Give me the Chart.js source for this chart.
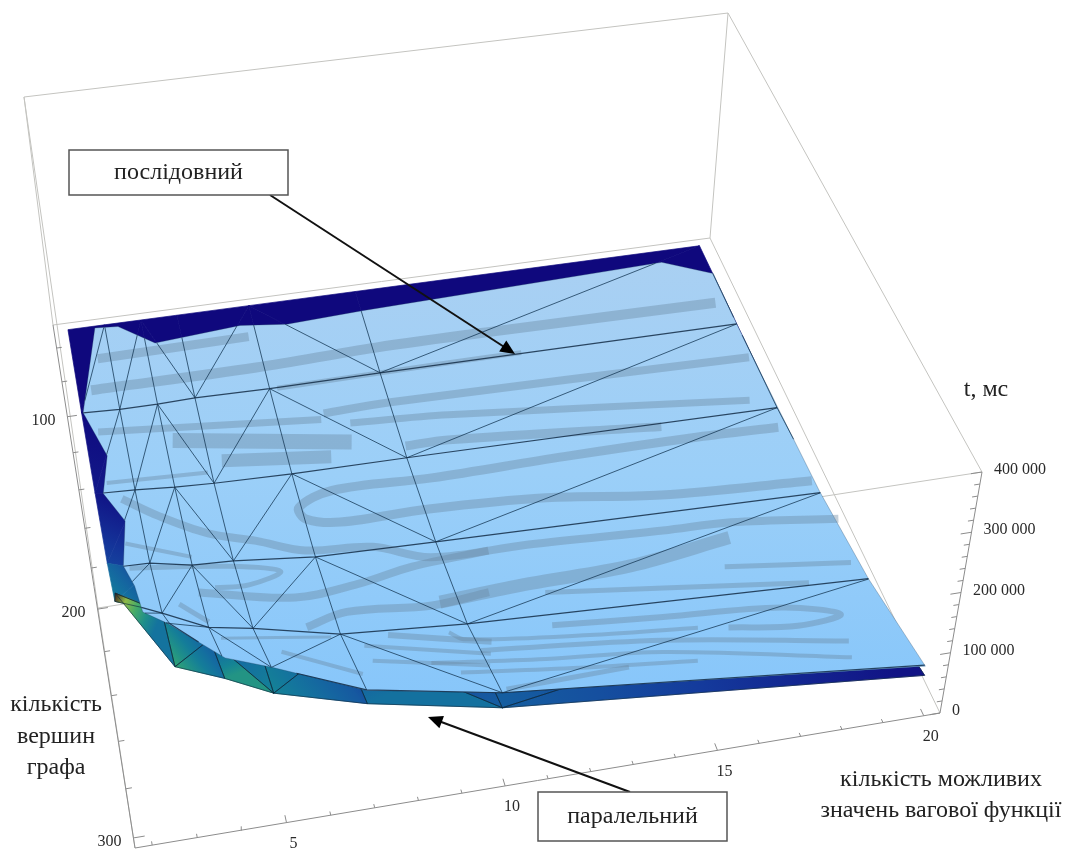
<!DOCTYPE html>
<html>
<head>
<meta charset="utf-8">
<title>t, мс</title>
<script src="https://cdn.jsdelivr.net/npm/chart.js@4"></script>
<style>
  body { margin: 0; background: #fff; }
  canvas { display: block; }
</style>
</head>
<body>
<canvas id="surfaceChart" width="1067" height="849"></canvas>
<script>
// axes: number of weight values, number of vertices, time
const weightValues = [2, 3, 4, 5, 7, 10, 20];
const vertexValues = [50, 100, 150, 200, 250, 300];

// sequential algorithm, t in ms, one row per vertex count
const seqT50 = [0, 0, 0, 0, 0, 0, 0];
const seqT100 = [3000, 0, 0, 2000, 0, 1000, 0];
const seqT150 = [22000, 19000, 14000, 11000, 8000, 7000, 1000];
const seqT200 = [65000, 63000, 49000, 46000, 32000, 27000, 12000];
const seqT250 = [193000, 160000, 125000, 112000, 80000, 64000, 34000];
const seqT300 = [370000, 340000, 271000, 242000, 180000, 139000, 69000];

// parallel algorithm
const parT50 = [0, 0, 0, 0, 0, 0, 0];
const parT100 = [3000, 0, 0, 0, 0, 0, 0];
const parT150 = [23000, 7000, 2000, 1000, 0, 0, 0];
const parT200 = [73000, 51000, 33000, 31000, 18000, 13000, 1000];
const parT250 = [191000, 162000, 105000, 112000, 69000, 51000, 15000];
const parT300 = [403000, 268000, 236000, 199000, 157000, 114000, 52000];

// edge of the part of the sequential sheet left inside the plot range: [w, n, t]
const seqOutline = [
  [2.71, 58, 20000], [3.33, 59, 20000], [4.21, 75, 30000], [6.58, 68, 20000], [7.83, 71, 20000],
  [9.95, 69, 20000], [18.57, 64, 20000], [19.84, 75, 20000], [19.65, 114, 40000], [19.68, 162, 40000],
  [19.55, 213, 60000], [19.54, 262, 80000], [19.87, 303, 80000], [10.11, 293, 110000], [7.08, 293, 150000],
  [5.10, 290, 200000], [4.11, 288, 220000], [2.97, 290, 300000], [2.51, 289, 320000], [2.48, 247, 200000],
  [2.35, 210, 100000], [2.58, 183, 80000], [2.18, 162, 60000], [2.43, 143, 60000], [2.02, 112, 40000]
];

// grey bands on the sheet, [w, n] at the level bandLevel
const bandLevel = 70000;
const contourBands = [
  [[2.6,93],[6.6,92]],
  [[2.3,110],[6.6,110],[9.8,108],[13.2,108],[19.1,109]],
  [[7.0,123],[11.6,122],[13.5,122]],
  [[8.0,140],[9.7,139],[19.3,142]],
  [[2.3,133],[7.9,143]],
  [[4.1,143],[8.5,157]],
  [[5.2,157],[7.9,163]],
  [[8.6,147],[11.1,150],[18.8,165]],
  [[9.8,163],[10.9,163],[16.3,172]],
  [[19.4,210],[15.6,206],[12.8,199],[9.9,196],[7.7,196],[6.9,192],[6.8,186],[7.7,180],[10.2,181],[13.6,180],[17.1,180],[19.2,181]],
  [[2.6,169],[3.4,180],[4.5,192],[5.6,199],[6.7,207],[8.3,210],[9.6,219],[12.0,220],[15.3,223],[17.0,224],[19.6,230]],
  [[16.8,231],[14.2,237],[11.7,238],[9.5,240]],
  [[16.4,244],[19.4,251]],
  [[12.0,243],[18.2,257]],
  [[11.9,258],[14.5,262],[17.3,266],[18.6,273],[17.5,275],[15.9,271]],
  [[9.5,254],[9.8,258],[12.8,265],[15.2,269]],
  [[10.1,264],[14.3,272],[18.5,285]],
  [[8.9,266],[11.5,272],[14.2,277],[18.4,292]],
  [[10.4,282],[13.3,281]],
  [[9.5,272],[12.2,278],[14.9,283]],
  [[2.5,203],[4.8,209],[6.0,215],[5.2,219],[4.4,218]],
  [[4.0,219],[6.2,228],[7.8,226],[9.1,222],[11.0,220]],
  [[6.3,242],[7.3,238],[9.3,241],[10.7,239]],
  [[8.1,251],[10.4,261]],
  [[7.5,254],[10.3,266]],
  [[7.6,261],[10.2,271]],
  [[4.3,241],[6.8,248]],
  [[5.6,251],[7.3,266]],
  [[3.5,223],[4.1,233]],
  [[2.5,191],[4.0,202]],
  [[2.3,160],[4.8,162]]
];

// ticks and labels
const weightTicks = [2, 3, 4, 5, 6, 7, 8, 9, 10, 11, 12, 13, 14, 15, 16, 17, 18, 19, 20];
const vertexTicks = [60, 80, 100, 120, 140, 160, 180, 200, 220, 240, 260, 280, 300];
const timeTicks = [0, 20000, 40000, 60000, 80000, 100000, 120000, 140000, 160000, 180000, 200000,
  220000, 240000, 260000, 280000, 300000, 320000, 340000, 360000, 380000, 400000];
const weightLabels = [5, 10, 15, 20];
const vertexLabels = [100, 200, 300];
const timeLabels = [0, 100000, 200000, 300000, 400000];

const seqGrid = [seqT50, seqT100, seqT150, seqT200, seqT250, seqT300];
const parGrid = [parT50, parT100, parT150, parT200, parT250, parT300];

// plot box and the way the view puts it on the page
const wMin = 1.62, wMax = 20.4, nMin = 46, nMax = 304, tMax = 400000;
const floorCorners = [[53, 325], [710, 238], [940, 713], [135, 848]];
const roofCorners = [[24, 97], [728, 13], [982, 472], [98, 608]];

function quadMap(q) {
  const [p0, p1, p2, p3] = q;
  const dx1 = p1[0] - p2[0], dx2 = p3[0] - p2[0], sx = p0[0] - p1[0] + p2[0] - p3[0];
  const dy1 = p1[1] - p2[1], dy2 = p3[1] - p2[1], sy = p0[1] - p1[1] + p2[1] - p3[1];
  const den = dx1 * dy2 - dx2 * dy1;
  const g = (sx * dy2 - dx2 * sy) / den, h = (dx1 * sy - sx * dy1) / den;
  const a = p1[0] - p0[0] + g * p1[0], b = p3[0] - p0[0] + h * p3[0];
  const d = p1[1] - p0[1] + g * p1[1], e = p3[1] - p0[1] + h * p3[1];
  return (u, v) => {
    const k = g * u + h * v + 1;
    return [(a * u + b * v + p0[0]) / k, (d * u + e * v + p0[1]) / k];
  };
}
const floorMap = quadMap(floorCorners);
const roofMap = quadMap(roofCorners);

function project(w, n, t) {
  const u = (w - wMin) / (wMax - wMin), v = (n - nMin) / (nMax - nMin), s = t / tMax;
  const a = floorMap(u, v), b = roofMap(u, v);
  return { x: a[0] + (b[0] - a[0]) * s, y: a[1] + (b[1] - a[1]) * s };
}

const GAP = { x: NaN, y: NaN };
const canvas = document.getElementById('surfaceChart');
const ctx = canvas.getContext('2d');
const datasets = [];

function addLine(data, color, width, extra) {
  datasets.push(Object.assign({
    data, showLine: true, pointRadius: 0, borderColor: color, borderWidth: width,
    backgroundColor: 'transparent', fill: false, tension: 0
  }, extra || {}));
}

// --- box edges
const boxEdges = [
  [[wMin, nMin, 0], [wMax, nMin, 0]], [[wMax, nMin, 0], [wMax, nMax, 0]],
  [[wMin, nMin, tMax], [wMax, nMin, tMax]], [[wMax, nMin, tMax], [wMax, nMax, tMax]],
  [[wMax, nMax, tMax], [wMin, nMax, tMax]], [[wMin, nMax, tMax], [wMin, nMin, tMax]],
  [[wMin, nMin, 0], [wMin, nMin, tMax]], [[wMax, nMin, 0], [wMax, nMin, tMax]],
  [[wMin, nMax, 0], [wMin, nMax, tMax]]
];
const boxData = [];
boxEdges.forEach(e => boxData.push(project(...e[0]), project(...e[1]), GAP));
addLine(boxData, '#c4c4c0', 1);

// --- axes with ticks
const axisData = [project(wMin, nMin, 0), project(wMin, nMax, 0), project(wMax, nMax, 0), project(wMax, nMax, tMax), GAP];
weightTicks.forEach(w => {
  const len = w % 5 === 0 ? 3 : 1.5;
  axisData.push(project(w, nMax, 0), project(w, nMax - len, 0), GAP);
});
vertexTicks.forEach(n => {
  const len = n % 100 === 0 ? 0.25 : 0.14;
  axisData.push(project(wMin, n, 0), project(wMin + len, n, 0), GAP);
});
timeTicks.forEach(t => {
  const len = t % 100000 === 0 ? 0.25 : 0.13;
  axisData.push(project(wMax, nMax, t), project(wMax - len, nMax, t), GAP);
});
addLine(axisData, '#8c8c8c', 1);

// --- parallel sheet, coloured by height
const colorStops = [
  [0, [15, 8, 125]], [30000, [18, 30, 140]], [60000, [20, 55, 155]], [100000, [22, 88, 160]],
  [150000, [20, 110, 160]], [200000, [20, 130, 150]], [270000, [50, 165, 115]], [320000, [120, 185, 80]],
  [370000, [170, 190, 60]], [395000, [70, 40, 30]], [420000, [50, 30, 30]]
];
function heightColor(t) {
  for (let i = 1; i < colorStops.length; i++) {
    if (t <= colorStops[i][0]) {
      const [t0, c0] = colorStops[i - 1], [t1, c1] = colorStops[i];
      const s = Math.max(0, (t - t0) / (t1 - t0));
      return `rgb(${c0.map((c, k) => Math.round(c + (c1[k] - c) * s)).join(',')})`;
    }
  }
  return 'rgb(50,30,30)';
}

// which way each cell is split, left to right
const cellSplit = ['/', '/', '\\', '/', '\\', '/'];
function gridNode(grid, r, c) {
  return [weightValues[c], vertexValues[r], grid[r][c]];
}
function cellTriangles(grid, r, c) {
  const a = gridNode(grid, r, c), b = gridNode(grid, r, c + 1);
  const d = gridNode(grid, r + 1, c), e = gridNode(grid, r + 1, c + 1);
  return cellSplit[c] === '/' ? [[a, b, d], [b, e, d]] : [[a, b, e], [a, e, d]];
}

for (let r = 0; r < vertexValues.length - 1; r++) {
  for (let c = 0; c < weightValues.length - 1; c++) {
    cellTriangles(parGrid, r, c).forEach(tri => {
      const pts = tri.map(p => project(...p));
      const sorted = tri.slice().sort((p, q) => p[2] - q[2]);
      const lo = project(...sorted[0]), hi = project(...sorted[2]);
      let paint = heightColor(sorted[1][2]);
      if (sorted[2][2] - sorted[0][2] > 3000) {
        paint = ctx.createLinearGradient(lo.x, lo.y, hi.x, hi.y);
        for (let i = 0; i <= 4; i++) {
          paint.addColorStop(i / 4, heightColor(sorted[0][2] + (sorted[2][2] - sorted[0][2]) * i / 4));
        }
      }
      addLine(pts.concat([pts[0]]), paint, 0.7, { fill: 'shape', backgroundColor: paint });
    });
  }
}

// mesh on the visible front of the parallel sheet
const parMesh = [];
for (let c = 0; c < weightValues.length - 1; c++) {
  cellTriangles(parGrid, 4, c).forEach(tri => {
    tri.forEach((p, i) => parMesh.push(project(...p), project(...tri[(i + 1) % 3]), GAP));
  });
}
addLine(parMesh, 'rgba(12,40,60,0.7)', 0.9);

// --- sequential sheet
const outlinePts = seqOutline.map(p => project(...p));
const sheetPaint = ctx.createLinearGradient(0, 250, 0, 700);
sheetPaint.addColorStop(0, 'rgb(170,208,242)');
sheetPaint.addColorStop(0.5, 'rgb(155,207,248)');
sheetPaint.addColorStop(1, 'rgb(135,198,250)');
addLine(outlinePts.concat([outlinePts[0]]), 'rgba(30,60,90,0.5)', 0.6, { fill: 'shape', backgroundColor: sheetPaint });

const bandWidths = [9, 10, 5, 8, 7, 15, 13, 7, 9, 9, 8, 13, 5, 5, 6, 4, 5, 4, 5, 4, 5, 8, 8, 6, 4, 4, 3, 4, 5, 4, 4];
contourBands.forEach((band, i) => {
  addLine(band.map(p => project(p[0], p[1], bandLevel)), 'rgba(105,135,160,0.4)', bandWidths[i], {
    tension: 0.35, borderCapStyle: 'butt', borderJoinStyle: 'round'
  });
});

// keep only the pieces of a mesh edge that lie on the sheet
function insideOutline(p) {
  let hit = false;
  outlinePts.forEach((a, i) => {
    const b = outlinePts[(i + 1) % outlinePts.length];
    if ((a.y > p.y) !== (b.y > p.y) && p.x < a.x + (p.y - a.y) / (b.y - a.y) * (b.x - a.x)) hit = !hit;
  });
  return hit;
}
function clipEdge(p, q, out) {
  const cuts = [0, 1];
  outlinePts.forEach((a, i) => {
    const b = outlinePts[(i + 1) % outlinePts.length];
    const rx = q.x - p.x, ry = q.y - p.y, sx = b.x - a.x, sy = b.y - a.y;
    const den = rx * sy - ry * sx;
    if (Math.abs(den) < 1e-9) return;
    const s = ((a.x - p.x) * sy - (a.y - p.y) * sx) / den;
    const k = ((a.x - p.x) * ry - (a.y - p.y) * rx) / den;
    if (s > 0 && s < 1 && k >= 0 && k <= 1) cuts.push(s);
  });
  cuts.sort((m, n) => m - n);
  const at = s => ({ x: p.x + (q.x - p.x) * s, y: p.y + (q.y - p.y) * s });
  for (let i = 0; i < cuts.length - 1; i++) {
    if (insideOutline(at((cuts[i] + cuts[i + 1]) / 2))) out.push(at(cuts[i]), at(cuts[i + 1]), GAP);
  }
}

const seqRows = [], seqCross = [];
for (let r = 0; r < vertexValues.length; r++) {
  for (let c = 0; c < weightValues.length; c++) {
    const here = project(...gridNode(seqGrid, r, c));
    if (c < weightValues.length - 1 && r > 0) clipEdge(here, project(...gridNode(seqGrid, r, c + 1)), seqRows);
    if (r < vertexValues.length - 1) clipEdge(here, project(...gridNode(seqGrid, r + 1, c)), seqCross);
    if (r < vertexValues.length - 1 && c < weightValues.length - 1) {
      const diag = cellSplit[c] === '/'
        ? [gridNode(seqGrid, r, c + 1), gridNode(seqGrid, r + 1, c)]
        : [gridNode(seqGrid, r, c), gridNode(seqGrid, r + 1, c + 1)];
      clipEdge(project(...diag[0]), project(...diag[1]), seqCross);
    }
  }
}
addLine(seqCross, 'rgba(25,60,90,0.8)', 1);
addLine(seqRows, 'rgba(20,45,70,0.85)', 1.2);

// drawn in array order: first on the bottom
datasets.forEach((d, i) => { d.order = datasets.length - i; });

// --- text, note boxes and arrows
function arrow(c, x0, y0, x1, y1) {
  const ang = Math.atan2(y1 - y0, x1 - x0), len = 16, spread = 0.42;
  c.strokeStyle = '#111';
  c.lineWidth = 2;
  c.beginPath();
  c.moveTo(x0, y0);
  c.lineTo(x1 - Math.cos(ang) * len * 0.8, y1 - Math.sin(ang) * len * 0.8);
  c.stroke();
  c.fillStyle = '#000';
  c.beginPath();
  c.moveTo(x1, y1);
  c.lineTo(x1 - len * Math.cos(ang - spread), y1 - len * Math.sin(ang - spread));
  c.lineTo(x1 - len * Math.cos(ang + spread), y1 - len * Math.sin(ang + spread));
  c.closePath();
  c.fill();
}
function noteBox(c, x, y, w, h, text) {
  c.fillStyle = '#fff';
  c.fillRect(x, y, w, h);
  c.strokeStyle = '#555';
  c.lineWidth = 1.5;
  c.strokeRect(x, y, w, h);
  c.fillStyle = '#222';
  c.textAlign = 'center';
  c.fillText(text, x + w / 2, y + h / 2);
}
const numberText = v => v >= 1000 ? String(v / 1000) + ' 000' : String(v);

const annotations = {
  id: 'annotations',
  afterDraw(chart) {
    const c = chart.ctx;
    c.save();
    c.textBaseline = 'middle';
    c.fillStyle = '#2a2a2a';
    c.font = '16px "Liberation Serif"';
    c.textAlign = 'right';
    vertexLabels.forEach(n => {
      const p = project(wMin, n, 0);
      c.fillText(String(n), p.x - 12, p.y + 4);
    });
    c.textAlign = 'center';
    weightLabels.forEach(w => {
      const p = project(w, nMax, 0);
      c.fillText(String(w), p.x + 7, p.y + 21);
    });
    c.textAlign = 'left';
    timeLabels.forEach(t => {
      const p = project(wMax, nMax, t);
      c.fillText(numberText(t), p.x + 12, p.y - 2);
    });
    c.font = '24px "Liberation Serif"';
    c.fillStyle = '#222';
    c.textAlign = 'center';
    c.fillText('t, мс', 986, 390);
    c.fillText('кількість', 56, 705);
    c.fillText('вершин', 56, 737);
    c.fillText('графа', 56, 768);
    c.fillText('кількість можливих', 941, 780);
    c.fillText('значень вагової функції', 941, 811);

    arrow(c, 270, 195, 515, 354);
    arrow(c, 630, 792, 428, 717);
    noteBox(c, 69, 150, 219, 45, 'послідовний');
    noteBox(c, 538, 792, 189, 49, 'паралельний');
    c.restore();
  }
};

new Chart(canvas, {
  type: 'scatter',
  data: { datasets },
  options: {
    responsive: false,
    animation: false,
    events: [],
    layout: { padding: 0 },
    plugins: { legend: { display: false }, tooltip: { enabled: false } },
    scales: {
      x: { type: 'linear', min: 0, max: 1067, display: false },
      y: { type: 'linear', min: 0, max: 849, reverse: true, display: false }
    }
  },
  plugins: [annotations]
});
</script>
</body>
</html>
